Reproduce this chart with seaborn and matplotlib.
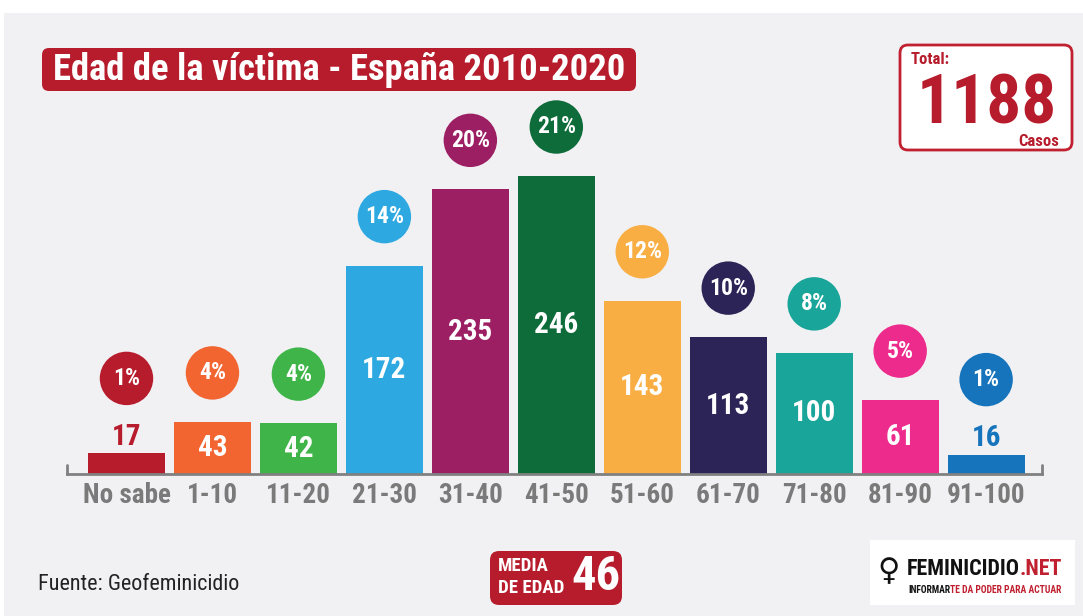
import numpy as np
import pandas as pd
import matplotlib
matplotlib.use('Agg')
import matplotlib.pyplot as plt
import seaborn as sns
from matplotlib.patches import FancyBboxPatch, Rectangle
from matplotlib.transforms import IdentityTransform

# Data
categories = ['No sabe', '1-10', '11-20', '21-30', '31-40', '41-50',
              '51-60', '61-70', '71-80', '81-90', '91-100']
counts = [17, 43, 42, 172, 235, 246, 143, 113, 100, 61, 16]
percents = [1, 4, 4, 14, 20, 21, 12, 10, 8, 5, 1]
colors = ['#b71c2c', '#f26430', '#3fb549', '#2ea8e0', '#9c1f63', '#0e6b3a',
          '#f9ae44', '#2c2457', '#1aa59a', '#ec2b8c', '#1574bb']
total_cases = 1188
mean_age = 46

W, H = 1083, 616
sns.set_theme(style='white')
plt.rcParams['font.family'] = ['Roboto Condensed', 'Liberation Sans Narrow', 'Roboto', 'DejaVu Sans']

fig = plt.figure(figsize=(W / 100, H / 100), dpi=100, facecolor='white')
# light gray panel (white strip at top and left like the original)
fig.patches.append(Rectangle((4 / W, 0), 1, (H - 13) / H, transform=fig.transFigure,
                             facecolor='#f1f1f3', edgecolor='none', zorder=-10))

# axes placed in pixel units: baseline at y=474, x from 67 to 1042
base_y, top_y = 474, 40
ax = fig.add_axes([67 / W, (H - base_y) / H, (1042 - 67) / W, (base_y - top_y) / H])
ax.set_facecolor('none')
px_per_unit = 298 / 246
ax.set_ylim(0, (base_y - top_y) / px_per_unit)
df = pd.DataFrame({'cat': categories, 'n': counts})
sns.barplot(data=df, x='cat', y='n', hue='cat', palette=colors, legend=False,
            width=0.895, saturation=1, linewidth=0, ax=ax)
ax.set_xlim(-0.692, 10.65)
ax.set_xlabel('')
ax.set_ylabel('')
ax.set_yticks([])
for s in ['top', 'right', 'left']:
    ax.spines[s].set_visible(False)
ax.spines['bottom'].set_color('#808080')
ax.spines['bottom'].set_linewidth(2)
for xe in ax.get_xlim():
    ax.axvline(xe, ymin=0, ymax=9 / (base_y - top_y), color='#808080', lw=2, clip_on=False)
ax.tick_params(axis='x', length=0, pad=6)
for lab in ax.get_xticklabels():
    lab.set_fontsize(19.5)
    lab.set_fontweight('bold')
    lab.set_color('#7a7a7a')

off_big = 49 / px_per_unit
off_small = 75 / px_per_unit
for i, (v, p, c) in enumerate(zip(counts, percents, colors)):
    if v < 30:
        ax.text(i, v + 2, str(v), ha='center', va='bottom', color=c,
                fontsize=21, fontweight='bold')
        cy = v + off_small
    else:
        ax.text(i, v / 2, str(v), ha='center', va='center', color='white',
                fontsize=21, fontweight='bold')
        cy = v + off_big
    ax.scatter(i, cy, s=1480, color=c, edgecolor='none', clip_on=False, zorder=3)
    ax.text(i, cy, f'{p}%', ha='center', va='center', color='white',
            fontsize=17, fontweight='bold', zorder=4)

ident = IdentityTransform()
renderer = fig.canvas.get_renderer()


def box(x0, y0, x1, y1, fc, ec='none', lw=0, r=8):
    fig.patches.append(FancyBboxPatch((x0 + r, H - y1 + r), x1 - x0 - 2 * r, y1 - y0 - 2 * r,
                                      boxstyle=f'round,pad={r}', transform=ident,
                                      facecolor=fc, edgecolor=ec, linewidth=lw))


def ftext(x, y, s, **kw):
    return fig.text(x / W, 1 - y / H, s, **kw)


def fit(t, width):
    # scale a text so that it spans the given pixel width
    w = t.get_window_extent(renderer).width
    t.set_fontsize(t.get_fontsize() * width / w)


# title
box(42, 48, 636, 91, '#b71c2c', r=7)
tt = ftext(339, 70, 'Edad de la víctima - España 2010-2020', ha='center', va='center',
           color='white', fontsize=26, fontweight='bold')
fit(tt, 574)

# total box
box(900, 45, 1072, 150, 'white', ec='#c0202f', lw=2, r=8)
ftext(911, 59, 'Total:', ha='left', va='center', color='#b71c2c', fontsize=12, fontweight='bold')
t_tot = ftext(987, 123, str(total_cases), ha='center', va='baseline', color='#b71c2c',
              fontsize=54, fontweight='bold')
fit(t_tot, 140)
ftext(1059, 141, 'Casos', ha='right', va='center', color='#b71c2c', fontsize=12, fontweight='bold')

# source
t_src = ftext(38, 585, 'Fuente: Geofeminicidio', ha='left', va='center', color='#222222',
              fontsize=15)
fit(t_src, 202)

# media de edad
box(490, 551, 622, 605, '#b71c2c', r=9)
ftext(498, 566, 'MEDIA', ha='left', va='center', color='white', fontsize=13.5, fontweight='bold')
ftext(498, 588, 'DE EDAD', ha='left', va='center', color='white', fontsize=13.5, fontweight='bold')
ftext(596, 577, str(mean_age), ha='center', va='center', color='white', fontsize=35, fontweight='bold')

# logo
fig.patches.append(Rectangle((870, H - 605), 205, 65, transform=ident,
                             facecolor='white', edgecolor='none'))
t1 = ftext(907, 569, 'FEMINICIDIO', ha='left', va='center', color='#111111',
           fontsize=17, fontweight='bold')
t1b = fig.text(0, 1 - 569 / H, '.NET', ha='left', va='center', color='#c0202f',
               fontsize=17, fontweight='bold')
tot_w = t1.get_window_extent(renderer).width + t1b.get_window_extent(renderer).width
for t in (t1, t1b):
    t.set_fontsize(t.get_fontsize() * 156 / tot_w)
t1b.set_x(t1.get_window_extent(renderer).x1 / W)
t2 = ftext(908, 590, 'INFORMAR', ha='left', va='center', color='#111111',
           fontsize=8, fontweight='bold')
t2b = fig.text(0, 1 - 590 / H, 'TE DA PODER PARA ACTUAR', ha='left', va='center',
               color='#c0202f', fontsize=8, fontweight='bold')
tot_w = t2.get_window_extent(renderer).width + t2b.get_window_extent(renderer).width
for t in (t2, t2b):
    t.set_fontsize(t.get_fontsize() * 155 / tot_w)
t2b.set_x(t2.get_window_extent(renderer).x1 / W)
# little silhouette mark
ftext(889, 572, '♀', ha='center', va='center', color='#111111', fontsize=22,
      family=['DejaVu Sans'])

fig.savefig('out.png', dpi=100, facecolor=fig.get_facecolor())
